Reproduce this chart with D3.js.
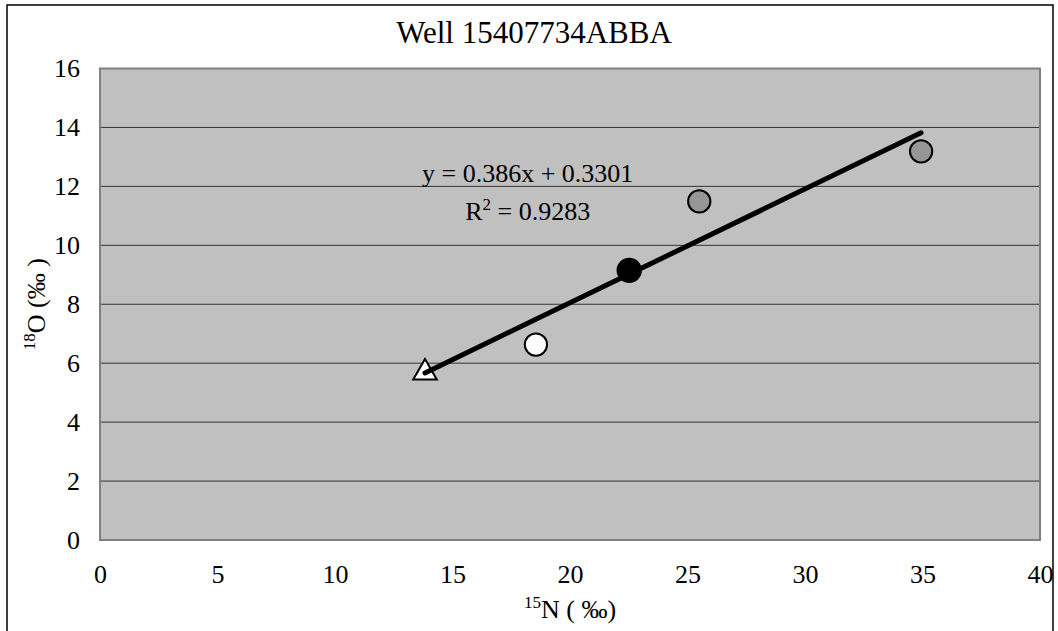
<!DOCTYPE html>
<html>
<head>
<meta charset="utf-8">
<script src="https://cdn.jsdelivr.net/npm/d3@7"></script>
<style>
  body { margin: 0; background: #fff; }
  svg text { font-family: "Liberation Serif", "Times New Roman", serif; fill: #000; }
</style>
</head>
<body>
<div id="chart"></div>
<script>
// data
var n15 = [13.83, 18.55, 22.52, 25.5, 34.94];
var o18 = [5.68, 6.63, 9.15, 11.49, 13.19];
var markerType = ["triangle", "circle", "circle", "circle", "circle"];
var markerFill = ["#ffffff", "#ffffff", "#000000", "#969696", "#969696"];

var xTicks = [0, 5, 10, 15, 20, 25, 30, 35, 40];
var yTicks = [0, 2, 4, 6, 8, 10, 12, 14, 16];

// trendline from the equation shown in the chart
var slope = 0.386;
var intercept = 0.3301;
var eqText = "y = 0.386x + 0.3301";
var r2Value = "0.9283";
var eqAnchor = [18.2, 12.14];

var svgWidth = 1058;
var svgHeight = 631;

var plot = { left: 100, right: 1040, top: 68.5, bottom: 540 };

var svg = d3.select("#chart")
  .append("svg")
  .attr("width", svgWidth)
  .attr("height", svgHeight);

// outer chart border
svg.append("rect")
  .attr("x", 7).attr("y", 5)
  .attr("width", 1046).attr("height", 660)
  .attr("fill", "#fff")
  .attr("stroke", "#000")
  .attr("stroke-width", 1.5);

var xScale = d3.scaleLinear().domain([0, 40]).range([plot.left, plot.right]);
var yScale = d3.scaleLinear().domain([0, 16]).range([plot.bottom, plot.top]);

// plot area
svg.append("rect")
  .attr("x", plot.left).attr("y", plot.top)
  .attr("width", plot.right - plot.left)
  .attr("height", plot.bottom - plot.top)
  .attr("fill", "#c0c0c0");

// gridlines
svg.append("g").selectAll("line")
  .data(yTicks)
  .enter()
  .append("line")
  .attr("x1", plot.left).attr("x2", plot.right)
  .attr("y1", d => yScale(d)).attr("y2", d => yScale(d))
  .attr("stroke", "#333")
  .attr("stroke-width", 1);

svg.append("rect")
  .attr("x", plot.left).attr("y", plot.top)
  .attr("width", plot.right - plot.left)
  .attr("height", plot.bottom - plot.top)
  .attr("fill", "none")
  .attr("stroke", "#808080")
  .attr("stroke-width", 2);

// axes (labels only)
var yAxis = d3.axisLeft(yScale).tickValues(yTicks).tickSize(0).tickPadding(20);
var xAxis = d3.axisBottom(xScale).tickValues(xTicks).tickSize(0).tickPadding(25);

var gy = svg.append("g")
  .attr("transform", `translate(${plot.left},0)`)
  .call(yAxis);
var gx = svg.append("g")
  .attr("transform", `translate(0,${plot.bottom})`)
  .call(xAxis);

[gx, gy].forEach(function(g) {
  g.select(".domain").remove();
  g.selectAll("text")
    .attr("font-family", "Liberation Serif, Times New Roman, serif")
    .attr("font-size", "26px")
    .attr("fill", "#000");
});

// markers
var points = n15.map(function(d, i) {
  return { x: d, y: o18[i], type: markerType[i], fill: markerFill[i] };
});

svg.append("g").selectAll("path")
  .data(points)
  .enter()
  .append("path")
  .attr("transform", d => `translate(${xScale(d.x)},${yScale(d.y)})`)
  .attr("d", function(d) {
    if (d.type == "triangle") {
      return d3.symbol().type(d3.symbolTriangle).size(240)();
    }
    return d3.symbol().type(d3.symbolCircle).size(d.fill == "#000000" ? 430 : 390)();
  })
  .attr("fill", d => d.fill)
  .attr("stroke", "#000")
  .attr("stroke-width", 2);

// trendline
var xMin = d3.min(n15), xMax = d3.max(n15);
svg.append("line")
  .attr("x1", xScale(xMin)).attr("y1", yScale(slope * xMin + intercept))
  .attr("x2", xScale(xMax)).attr("y2", yScale(slope * xMax + intercept))
  .attr("stroke", "#000")
  .attr("stroke-width", 5)
  .attr("stroke-linecap", "round");

// equation label
svg.append("text")
  .attr("x", xScale(eqAnchor[0]))
  .attr("y", yScale(eqAnchor[1]))
  .attr("text-anchor", "middle")
  .attr("font-size", "26px")
  .text(eqText);

var r2 = svg.append("text")
  .attr("x", xScale(eqAnchor[0]))
  .attr("y", yScale(eqAnchor[1]) + 38)
  .attr("text-anchor", "middle")
  .attr("font-size", "26px");
r2.append("tspan").text("R");
r2.append("tspan").attr("font-size", "17px").attr("dy", -10).text("2");
r2.append("tspan").attr("dy", 10).text(" = " + r2Value);

// title
svg.append("text")
  .attr("x", 534)
  .attr("y", 43)
  .attr("text-anchor", "middle")
  .attr("font-size", "31px")
  .text("Well 15407734ABBA");

// x axis title
var xt = svg.append("text")
  .attr("x", (plot.left + plot.right) / 2)
  .attr("y", 618)
  .attr("text-anchor", "middle")
  .attr("font-size", "26px");
xt.append("tspan").attr("font-size", "17px").attr("dy", -10).text("15");
xt.append("tspan").attr("dy", 10).text("N ( \u2030)");

// y axis title
var yt = svg.append("text")
  .attr("transform", `translate(45,${(plot.top + plot.bottom) / 2}) rotate(-90)`)
  .attr("text-anchor", "middle")
  .attr("font-size", "26px");
yt.append("tspan").attr("font-size", "17px").attr("dy", -10).text("18");
yt.append("tspan").attr("dy", 10).text("O (\u2030 )");
</script>
</body>
</html>
